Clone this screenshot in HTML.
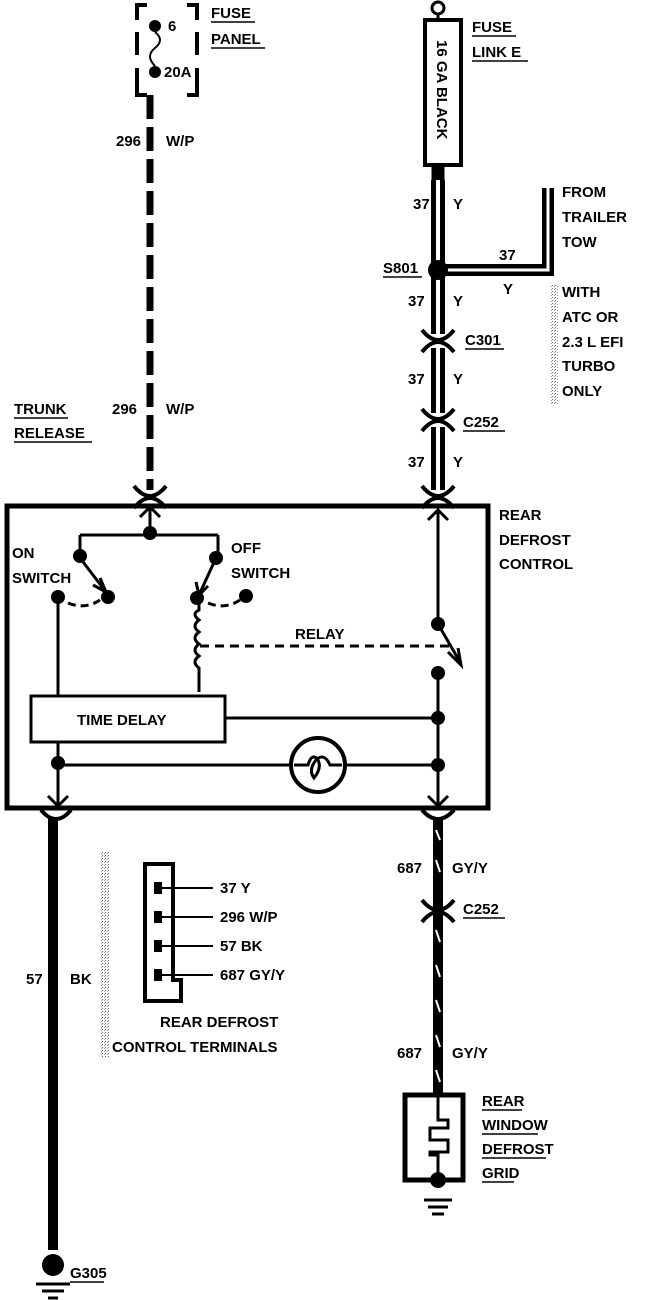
<!DOCTYPE html>
<html><head><meta charset="utf-8"><style>
html,body{margin:0;padding:0;background:#fff;}
svg{display:block}
text{font-family:"Liberation Sans",sans-serif;font-size:15px;font-weight:bold;fill:#000}
</style></head><body>
<svg width="672" height="1300" viewBox="0 0 672 1300" xmlns="http://www.w3.org/2000/svg">
<defs>
<pattern id="stip" width="3" height="3" patternUnits="userSpaceOnUse"><rect width="3" height="3" fill="#fff"/><rect width="1" height="1" fill="#666"/><rect x="2" y="1" width="1" height="1" fill="#999"/></pattern>
</defs>
<g fill="none" stroke="#000">
<!-- fuse panel -->
<path d="M137 20V5H147 M187 5H197V20 M197 32V55 M197 68V95H187 M147 95H137V68 M137 55V32" stroke-width="4"/>
<circle cx="155" cy="26" r="6" fill="#000" stroke="none"/>
<circle cx="155" cy="72" r="6" fill="#000" stroke="none"/>
<path d="M155 32Q165 40 155 48Q145 56 155 66" stroke-width="2"/>
<!-- W/P wire -->
<line x1="150" y1="95" x2="150" y2="495" stroke-width="7" stroke-dasharray="24 8"/>
<!-- fuse link -->
<circle cx="438" cy="8" r="6" stroke-width="3"/>
<line x1="438" y1="14" x2="438" y2="20" stroke-width="3"/>
<rect x="425" y="20" width="36" height="145" stroke-width="4"/>
<rect x="432" y="165" width="12" height="17" fill="#000"/>
<!-- yellow wire -->
<line x1="438" y1="180" x2="438" y2="505" stroke-width="14"/>
<line x1="438" y1="180" x2="438" y2="505" stroke="#fff" stroke-width="4"/>
<path d="M438 270H548V188" stroke-width="12"/>
<path d="M438 270H548V188" stroke="#fff" stroke-width="3"/>
<circle cx="438" cy="270" r="10" fill="#000" stroke="none"/>
<!-- connectors -->
<g stroke-width="4" fill="none">
<rect x="428" y="334" width="20" height="14" fill="#fff" stroke="none"/>
<rect x="428" y="413" width="20" height="14" fill="#fff" stroke="none"/>
<rect x="428" y="490" width="20" height="14" fill="#fff" stroke="none"/>
<rect x="140" y="490" width="20" height="14" fill="#fff" stroke="none"/>
<rect x="428" y="904" width="20" height="14" fill="#fff" stroke="none"/>
<path d="M422 330Q438 350 454 330 M422 352Q438 332 454 352"/>
<path d="M422 409Q438 429 454 409 M422 431Q438 411 454 431"/>
<path d="M422 486Q438 506 454 486 M422 508Q438 488 454 508"/>
<path d="M134 486Q150 506 166 486 M134 508Q150 488 166 508"/>
<path d="M41 810Q56 828 71 810"/>
<path d="M422 810Q438 828 454 810"/>
<path d="M422 900Q438 920 454 900 M422 922Q438 902 454 922"/>
</g>
<!-- main box -->
<rect x="7" y="506" width="481" height="302" stroke-width="5"/>
<!-- inside -->
<g stroke-width="3">
<path d="M150 505V535 M140 517L150 507L160 517"/>
<path d="M80 535H218 M80 535V558 M218 535V558"/>
<path d="M80 558L106 592 M100 578L106 592L93 585"/>
<path d="M216 558L199 595 M196 582L199 595L208 586"/>
<path d="M58 599V695"/>
<path d="M199 600V610Q191 614 199 620Q191 626 199 632Q191 638 199 644Q191 650 199 656Q191 662 199 668V692"/>
<path d="M438 510V624 M428 520L438 510L448 520"/>
<path d="M438 624L460 662 M448 652L461 665L458 648"/>
<path d="M438 673V808 M428 796L438 806L448 796"/>
<path d="M225 718H438"/>
<path d="M58 742V808 M48 796L58 806L68 796"/>
<path d="M58 765H290 M346 765H438"/>
<path d="M294 765H308Q312 752 318 760Q322 768 314 778Q308 770 316 760Q324 752 330 765H342"/>
</g>
<path d="M68 603Q85 610 100 600 M208 603Q225 610 240 600" stroke-width="3" stroke-dasharray="8 5"/>
<path d="M200 646H450" stroke-width="3" stroke-dasharray="9 6"/>
<circle cx="318" cy="765" r="27" stroke-width="4"/>
<rect x="31" y="696" width="194" height="46" stroke-width="3"/>
<g fill="#000" stroke="none">
<circle cx="150" cy="533" r="7"/>
<circle cx="80" cy="556" r="7"/><circle cx="216" cy="558" r="7"/>
<circle cx="108" cy="597" r="7"/><circle cx="58" cy="597" r="7"/>
<circle cx="197" cy="598" r="7"/><circle cx="246" cy="596" r="7"/>
<circle cx="438" cy="624" r="7"/><circle cx="438" cy="673" r="7"/>
<circle cx="438" cy="718" r="7"/><circle cx="438" cy="765" r="7"/>
<circle cx="58" cy="763" r="7"/>
</g>
<!-- bottom black wire -->
<line x1="53" y1="818" x2="53" y2="1250" stroke-width="10"/>
<circle cx="53" cy="1265" r="11" fill="#000" stroke="none"/>
<path d="M36 1284H70 M42 1291H64 M48 1298H58" stroke-width="3"/>
<!-- GY/Y wire -->
<line x1="438" y1="818" x2="438" y2="1095" stroke-width="10"/>
<g stroke="#fff" stroke-width="2">
<path d="M436 830L440 840 M436 860L440 872 M436 930L440 942 M436 965L440 977 M436 1000L440 1012 M436 1035L440 1047 M436 1070L440 1082"/>
</g>
<!-- grid -->
<rect x="405" y="1095" width="58" height="85" stroke-width="5"/>
<path d="M438 1095V1120H448V1128H430V1140H448V1152H430V1155H438V1175" stroke-width="3"/>
<circle cx="438" cy="1180" r="8" fill="#000" stroke="none"/>
<path d="M424 1200H452 M428 1207H448 M432 1214H444" stroke-width="3"/>
<!-- terminals -->
<rect x="100" y="852" width="10" height="205" fill="url(#stip)" stroke="none"/>
<path d="M145 864H173V980H181V1001H145Z" stroke-width="4"/>
<g fill="#000" stroke="none">
<rect x="154" y="882" width="8" height="12"/><rect x="154" y="911" width="8" height="12"/>
<rect x="154" y="940" width="8" height="12"/><rect x="154" y="969" width="8" height="12"/>
</g>
<path d="M160 888H213 M160 917H213 M160 946H213 M160 975H213" stroke-width="2"/>
<rect x="550" y="285" width="8" height="120" fill="url(#stip)" stroke="none"/>
</g>
<text x="168" y="31" font-size="13">6</text>
<text x="164" y="77" font-size="13">20A</text>
<text x="211" y="18">FUSE</text><text x="211" y="44">PANEL</text>
<path d="M211 22H255 M211 48H265" stroke="#000" stroke-width="1.5"/>
<text transform="translate(437,40) rotate(90)" font-size="14">16 GA BLACK</text>
<text x="472" y="32">FUSE</text><text x="472" y="57">LINK E</text>
<path d="M472 36H516 M472 61H528" stroke="#000" stroke-width="1.5"/>
<text x="116" y="146">296</text><text x="166" y="146">W/P</text>
<text x="112" y="414">296</text><text x="166" y="414">W/P</text>
<text x="14" y="414">TRUNK</text><text x="14" y="438">RELEASE</text>
<path d="M14 418H68 M14 442H92" stroke="#000" stroke-width="1.5"/>
<text x="413" y="209">37</text><text x="453" y="209">Y</text>
<text x="383" y="273">S801</text><path d="M383 277H422" stroke="#000" stroke-width="1.5"/>
<text x="499" y="260">37</text><text x="503" y="294">Y</text>
<text x="562" y="197" font-weight="normal">FROM</text><text x="562" y="222" font-weight="normal">TRAILER</text><text x="562" y="247" font-weight="normal">TOW</text>
<text x="562" y="297">WITH</text><text x="562" y="322">ATC OR</text><text x="562" y="347">2.3 L EFI</text><text x="562" y="371">TURBO</text><text x="562" y="396">ONLY</text>
<text x="408" y="306">37</text><text x="453" y="306">Y</text>
<text x="465" y="345">C301</text><path d="M465 349H504" stroke="#000" stroke-width="1.5"/>
<text x="408" y="384">37</text><text x="453" y="384">Y</text>
<text x="463" y="427">C252</text><path d="M463 431H505" stroke="#000" stroke-width="1.5"/>
<text x="408" y="467">37</text><text x="453" y="467">Y</text>
<text x="499" y="520">REAR</text><text x="499" y="545">DEFROST</text><text x="499" y="569">CONTROL</text>
<text x="12" y="558">ON</text><text x="12" y="583">SWITCH</text>
<text x="231" y="553">OFF</text><text x="231" y="578">SWITCH</text>
<text x="295" y="639">RELAY</text>
<text x="77" y="725">TIME DELAY</text>
<text x="397" y="873">687</text><text x="452" y="873">GY/Y</text>
<text x="463" y="914">C252</text><path d="M463 918H505" stroke="#000" stroke-width="1.5"/>
<text x="397" y="1058">687</text><text x="452" y="1058">GY/Y</text>
<text x="482" y="1106">REAR</text><text x="482" y="1130">WINDOW</text><text x="482" y="1154">DEFROST</text><text x="482" y="1178">GRID</text>
<path d="M482 1110H522 M482 1134H538 M482 1158H546 M482 1182H514" stroke="#000" stroke-width="1.5"/>
<text x="26" y="984">57</text><text x="70" y="984">BK</text>
<text x="220" y="893">37 Y</text><text x="220" y="922">296 W/P</text><text x="220" y="951">57 BK</text><text x="220" y="980">687 GY/Y</text>
<text x="160" y="1027">REAR DEFROST</text><text x="112" y="1052">CONTROL TERMINALS</text>
<text x="70" y="1278">G305</text><path d="M70 1282H104" stroke="#000" stroke-width="1.5"/>
</svg>
</body></html>
